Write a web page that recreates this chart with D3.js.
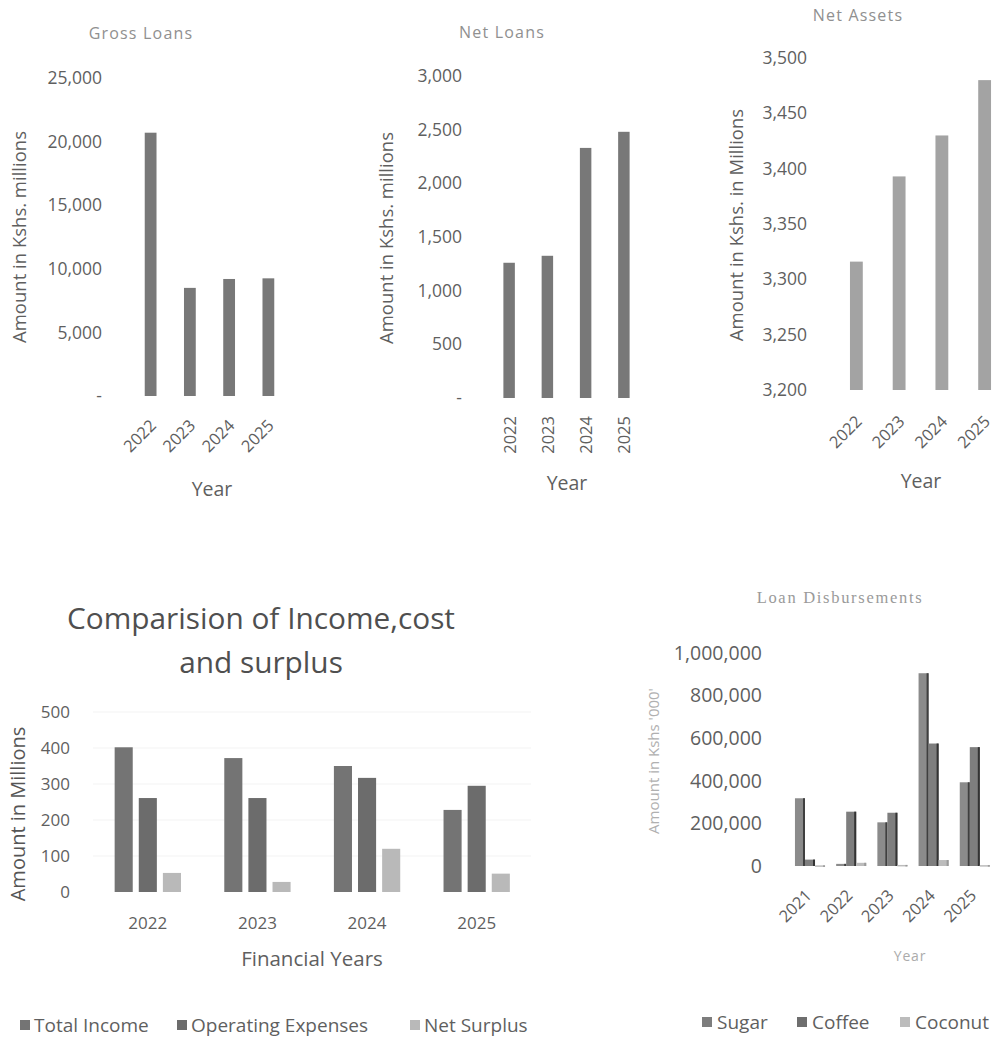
<!DOCTYPE html>
<html>
<head>
<meta charset="utf-8">
<script src="https://cdn.jsdelivr.net/npm/d3@7"></script>
<style>
  html, body { margin: 0; padding: 0; background: #ffffff; }
  svg { display: block; }
  text { font-family: "Open Sans", Lato, sans-serif; }
</style>
</head>
<body>
<svg id="chart" width="997" height="1039"></svg>
<script>
// ---- data ----
const years4 = ["2022", "2023", "2024", "2025"];
const grossLoans = [20700, 8500, 9200, 9250];
const netLoans = [1260, 1325, 2330, 2480];
const netAssets = [3316, 3393, 3430, 3480];

const grossTicks = [0, 5000, 10000, 15000, 20000, 25000];
const netLoanTicks = [0, 500, 1000, 1500, 2000, 2500, 3000];
const netAssetTicks = [3200, 3250, 3300, 3350, 3400, 3450, 3500];

const financeSeries = ["Total Income", "Operating Expenses", "Net Surplus"];
const totalIncome = [402, 372, 350, 228];
const operatingExpenses = [261, 261, 317, 295];
const netSurplus = [53, 28, 120, 51];
const financeTicks = [0, 100, 200, 300, 400, 500];

const disbYears = ["2021", "2022", "2023", "2024", "2025"];
const crops = ["Sugar", "Coffee", "Coconut"];
const sugar = [318000, 10000, 205000, 905000, 393000];
const coffee = [30000, 255000, 250000, 575000, 558000];
const coconut = [3000, 15000, 5000, 28000, 4000];
const disbTicks = [0, 200000, 400000, 600000, 800000, 1000000];

// ---- helpers ----
const svg = d3.select("#chart");
const tickColor = "#5f5f5f";
const fmt = d3.format(",");

function yAxis(g, scale, x, ticks, format, size, color) {
  const ax = g.append("g")
    .attr("transform", `translate(${x},0)`)
    .call(d3.axisLeft(scale).tickValues(ticks).tickSize(0).tickPadding(7).tickFormat(format));
  ax.select(".domain").remove();
  ax.selectAll("text")
    .style("font-family", "'Open Sans', sans-serif")
    .attr("font-size", size)
    .attr("fill", color || tickColor);
  return ax;
}

function rotatedTitle(g, text, x, y, size, color) {
  g.append("text")
    .attr("transform", `translate(${x},${y}) rotate(-90)`)
    .attr("text-anchor", "middle")
    .attr("dominant-baseline", "central")
    .attr("font-size", size)
    .attr("fill", color)
    .text(text);
}

function plainText(g, text, x, y, size, color, extra) {
  const t = g.append("text")
    .attr("x", x).attr("y", y)
    .attr("text-anchor", "middle")
    .attr("dominant-baseline", "central")
    .attr("font-size", size)
    .attr("fill", color)
    .text(text);
  if (extra) extra(t);
  return t;
}

// Small single-series column chart used for the three top panels
function smallChart(opts) {
  const g = svg.append("g");
  const y = d3.scaleLinear().domain(opts.domain).range(opts.yRange);
  const x = d3.scaleBand().domain(years4).range(opts.xRange)
    .paddingInner(0.7).paddingOuter(0.35);

  g.selectAll("rect.bar").data(opts.values).join("rect")
    .attr("class", "bar")
    .attr("x", (d, i) => x(years4[i]))
    .attr("width", x.bandwidth())
    .attr("y", d => y(d))
    .attr("height", d => y(opts.domain[0]) - y(d))
    .attr("fill", opts.color);

  yAxis(g, y, opts.axisX, opts.ticks, opts.tickFormat, 17.5);

  // category labels
  g.selectAll("text.cat").data(years4).join("text")
    .attr("class", "cat")
    .attr("transform", d => `translate(${x(d) + x.bandwidth() / 2 + opts.labelDx},${opts.labelY}) rotate(${opts.labelRot})`)
    .attr("text-anchor", "end")
    .attr("dominant-baseline", "central")
    .attr("font-size", 16.5)
    .attr("fill", tickColor)
    .text(d => d);

  plainText(g, opts.title, opts.titleX, opts.titleY, 16, "#909090", t => t.attr("letter-spacing", 1.2));
  rotatedTitle(g, opts.yTitle, opts.yTitleX, opts.yTitleY, 18.5, tickColor);
  plainText(g, "Year", opts.xTitleX, opts.xTitleY, 19.5, tickColor);
}

smallChart({
  values: grossLoans, domain: [0, 25000], yRange: [396, 78], xRange: [131, 288],
  ticks: grossTicks, tickFormat: d => d === 0 ? "-" : fmt(d), axisX: 109,
  color: "#787878", labelRot: -45, labelDx: 2, labelY: 422,
  title: "Gross Loans", titleX: 141, titleY: 33,
  yTitle: "Amount in Kshs. millions", yTitleX: 18, yTitleY: 237,
  xTitleX: 212, xTitleY: 488
});

smallChart({
  values: netLoans, domain: [0, 3000], yRange: [398, 76], xRange: [490, 643],
  ticks: netLoanTicks, tickFormat: d => d === 0 ? "-" : fmt(d), axisX: 469,
  color: "#787878", labelRot: -90, labelDx: 0, labelY: 416,
  title: "Net Loans", titleX: 502, titleY: 32,
  yTitle: "Amount in Kshs. millions", yTitleX: 385, yTitleY: 238,
  xTitleX: 567, xTitleY: 482
});

smallChart({
  values: netAssets, domain: [3200, 3500], yRange: [390, 58], xRange: [835, 1006],
  ticks: netAssetTicks, tickFormat: fmt, axisX: 814,
  color: "#a3a3a3", labelRot: -45, labelDx: 2, labelY: 418,
  title: "Net Assets", titleX: 858, titleY: 15,
  yTitle: "Amount in Kshs. in Millions", yTitleX: 735, yTitleY: 225,
  xTitleX: 921, xTitleY: 480
});

// ---- Comparision of Income, cost and surplus ----
(function () {
  const g = svg.append("g");
  const y = d3.scaleLinear().domain([0, 500]).range([892, 712]);
  const x0 = d3.scaleBand().domain(years4).range([93, 531.5]).paddingInner(0.34).paddingOuter(0.17);
  const x1 = d3.scaleBand().domain(financeSeries).range([0, x0.bandwidth()]).paddingInner(0.25).paddingOuter(0.125);
  const colors = { "Total Income": "#747474", "Operating Expenses": "#6c6c6c", "Net Surplus": "#b9b9b9" };
  const seriesVals = [totalIncome, operatingExpenses, netSurplus];

  // faint gridlines
  g.selectAll("line.grid").data(financeTicks.slice(1)).join("line")
    .attr("class", "grid")
    .attr("x1", 93).attr("x2", 531)
    .attr("y1", d => y(d)).attr("y2", d => y(d))
    .attr("stroke", "#f3f3f3").attr("stroke-width", 1);

  const groups = g.selectAll("g.grp").data(years4).join("g")
    .attr("class", "grp")
    .attr("transform", d => `translate(${x0(d)},0)`);
  groups.selectAll("rect").data((d, i) => financeSeries.map((s, k) => ({ s, v: seriesVals[k][i] }))).join("rect")
    .attr("x", d => x1(d.s))
    .attr("width", x1.bandwidth())
    .attr("y", d => y(d.v))
    .attr("height", d => y(0) - y(d.v))
    .attr("fill", d => colors[d.s]);

  yAxis(g, y, 77, financeTicks, d => d, 17);

  g.selectAll("text.cat").data(years4).join("text")
    .attr("class", "cat")
    .attr("x", d => x0(d) + x0.bandwidth() / 2)
    .attr("y", 922)
    .attr("text-anchor", "middle")
    .attr("dominant-baseline", "central")
    .attr("font-size", 17)
    .attr("fill", tickColor)
    .text(d => d);

  plainText(g, "Comparision of Income,cost", 261, 617, 29.8, "#4f4f4f");
  plainText(g, "and surplus", 261, 661, 29.8, "#4f4f4f");
  plainText(g, "Financial Years", 312, 958, 20.5, tickColor);
  rotatedTitle(g, "Amount in Millions", 17, 814, 20, "#555555");

  // legend
  const legendX = [20, 177, 410];
  const lg = g.selectAll("g.leg").data(financeSeries).join("g")
    .attr("class", "leg")
    .attr("transform", (d, i) => `translate(${legendX[i]},1025)`);
  lg.append("rect").attr("x", 0).attr("y", -5).attr("width", 10).attr("height", 10)
    .attr("fill", d => colors[d]);
  lg.append("text").attr("x", 14).attr("y", 0)
    .attr("dominant-baseline", "central")
    .attr("font-size", 19).attr("fill", tickColor)
    .text(d => d);
})();

// ---- Loan Disbursements ----
(function () {
  const g = svg.append("g");
  const y = d3.scaleLinear().domain([0, 1000000]).range([866, 653]);
  const x0 = d3.scaleBand().domain(disbYears).range([789.4, 995.4]).paddingInner(0.27).paddingOuter(0.135);
  const x1 = d3.scaleBand().domain(crops).range([0, x0.bandwidth()]).padding(0);
  const colors = { Sugar: "#8b8b8b", Coffee: "#7e7e7e", Coconut: "#bcbcbc" };
  const edges = { Sugar: "#3f3f3f", Coffee: "#333333", Coconut: "#9a9a9a" };
  const seriesVals = [sugar, coffee, coconut];

  const groups = g.selectAll("g.grp").data(disbYears).join("g")
    .attr("class", "grp")
    .attr("transform", d => `translate(${x0(d)},0)`);
  const cells = groups.selectAll("g.cell").data((d, i) => crops.map((s, k) => ({ s, v: seriesVals[k][i] }))).join("g")
    .attr("class", "cell");
  cells.append("rect")
    .attr("x", d => x1(d.s))
    .attr("width", x1.bandwidth())
    .attr("y", d => y(d.v))
    .attr("height", d => Math.max(1.5, y(0) - y(d.v)))
    .attr("fill", d => colors[d.s]);
  // darker shaded right face of each column
  cells.append("rect")
    .attr("x", d => x1(d.s) + x1.bandwidth() - 2)
    .attr("width", 2)
    .attr("y", d => y(d.v))
    .attr("height", d => Math.max(1.5, y(0) - y(d.v)))
    .attr("fill", d => edges[d.s]);

  yAxis(g, y, 769, disbTicks, fmt, 19.5);

  g.selectAll("text.cat").data(disbYears).join("text")
    .attr("class", "cat")
    .attr("transform", d => `translate(${x0(d) + x0.bandwidth() / 2 - 2},${892}) rotate(-45)`)
    .attr("text-anchor", "end")
    .attr("dominant-baseline", "central")
    .attr("font-size", 16.5)
    .attr("fill", tickColor)
    .text(d => d);

  plainText(g, "Loan Disbursements", 840, 597, 16.5, "#9a9a9a", t => t.style("font-family", "'Liberation Serif', serif").attr("letter-spacing", 1.7));
  rotatedTitle(g, "Amount in Kshs '000'", 653, 761, 15, "#b0b0b0");
  plainText(g, "Year", 910, 955, 14, "#ababab", t => t.attr("letter-spacing", 0.8));

  const legendX = [702, 797, 900];
  const lg = g.selectAll("g.leg").data(crops).join("g")
    .attr("class", "leg")
    .attr("transform", (d, i) => `translate(${legendX[i]},1022)`);
  lg.append("rect").attr("x", 0).attr("y", -5).attr("width", 10).attr("height", 10)
    .attr("fill", (d, i) => ["#7d7d7d", "#6e6e6e", "#bcbcbc"][i]);
  lg.append("text").attr("x", 15).attr("y", 0)
    .attr("dominant-baseline", "central")
    .attr("font-size", 19).attr("fill", tickColor)
    .text(d => d);
})();
</script>
</body>
</html>
